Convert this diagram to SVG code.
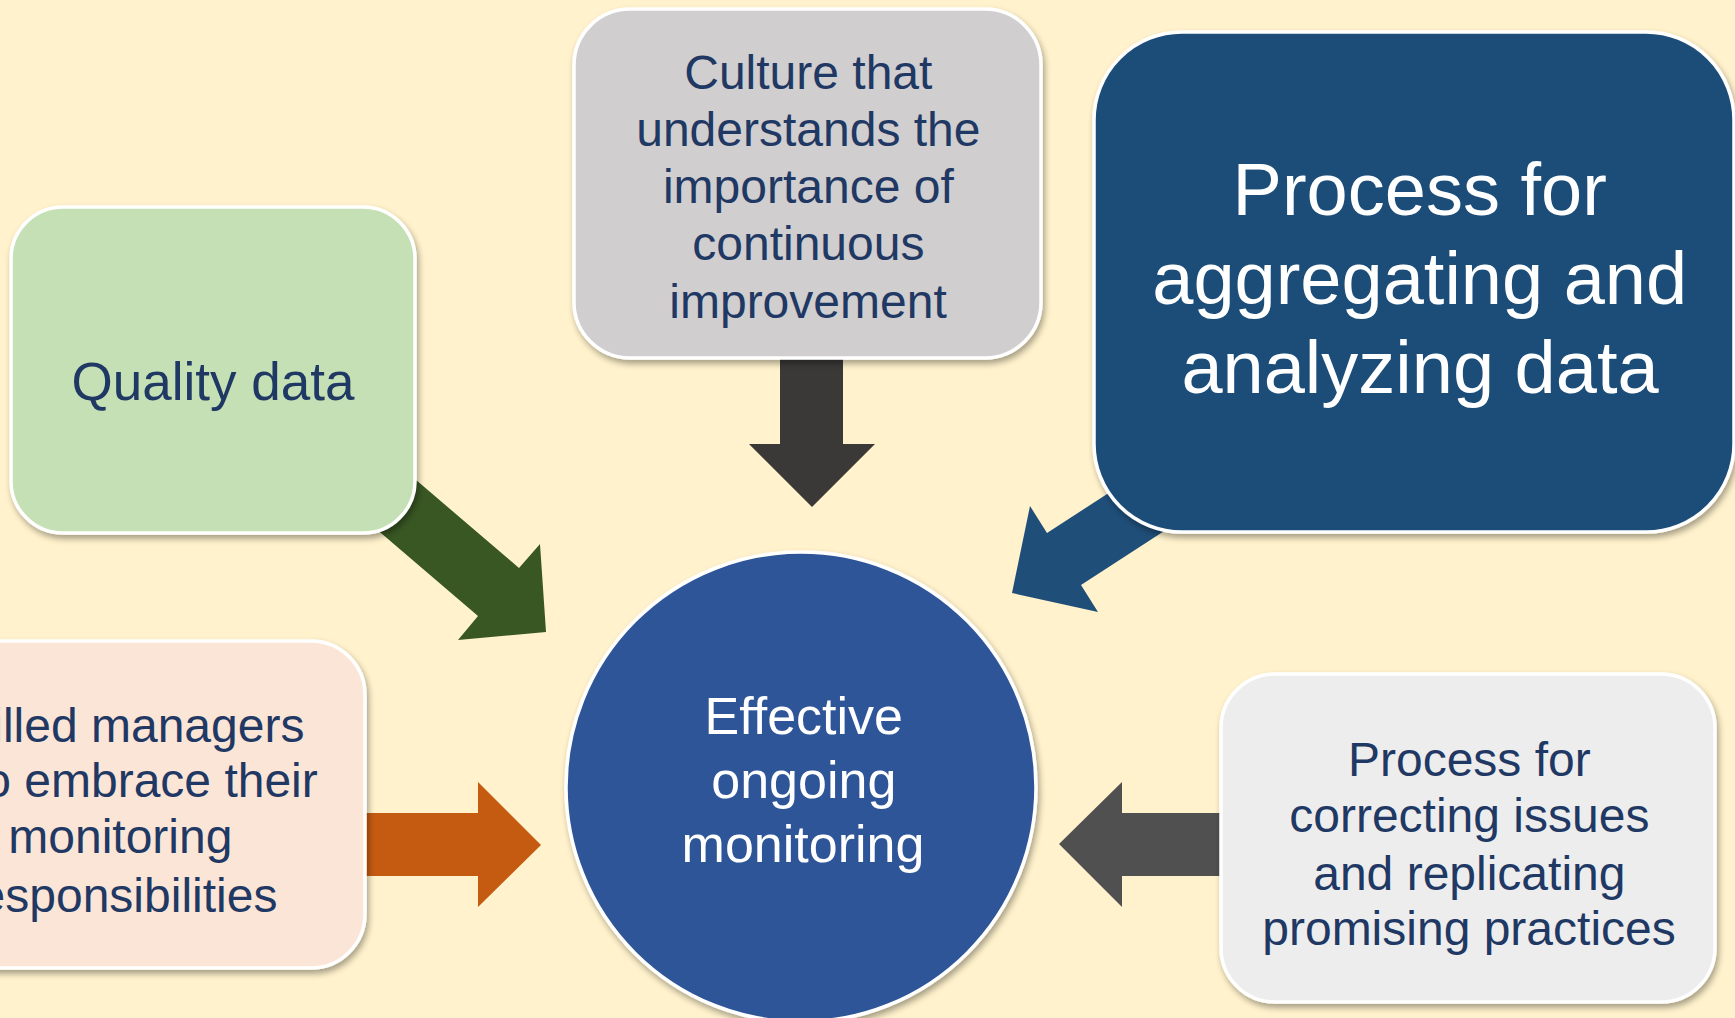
<svg xmlns="http://www.w3.org/2000/svg" width="1735" height="1018" viewBox="0 0 1735 1018">
<defs>
<filter id="sh" x="-10%" y="-10%" width="125%" height="125%">
<feDropShadow dx="2" dy="4" stdDeviation="3" flood-color="#000" flood-opacity="0.35"/>
</filter>
</defs>
<style>
.box{stroke:#fff;stroke-width:3.5;filter:url(#sh)}
.t{font-family:"Liberation Sans",Arial,sans-serif;text-anchor:middle;fill:#1F3864}
.w{fill:#fff}
</style>
<rect x="0" y="0" width="1735" height="1018" fill="#FFF2CC"/>
<g id="connectors">
<polygon id="arrow-quality" fill="#385723" points="326,486 478,616 458,640 546,632 540,544 519,568 367,438"/>
<polygon id="arrow-culture" fill="#3B3838" points="780,340 780,444 749,444 812,507 875,444 843,444 843,340"/>
<polygon id="arrow-aggregating" fill="#1F4E79" points="1249,476 1081,585 1098,612 1012,593 1030,506 1047,533 1215,424"/>
<polygon id="arrow-managers" fill="#C55A11" points="340,813 478,813 478,782 541,845 478,907 478,876 340,876"/>
<polygon id="arrow-correcting" fill="#505050" points="1240,813 1122,813 1122,782 1059,844 1122,907 1122,876 1240,876"/>
</g>
<g id="node-quality">
<rect class="box" x="11" y="207" width="404" height="326" rx="52" fill="#C5E0B4"/>
<text class="t" x="213" y="400" font-size="53">Quality data</text>
</g>
<g id="node-culture">
<rect class="box" x="574" y="9" width="467" height="349" rx="56" fill="#D0CECE"/>
<text class="t" font-size="48">
<tspan x="815" y="89">Culture that</tspan>
<tspan x="815" y="146">understands the</tspan>
<tspan x="815" y="203">importance of</tspan>
<tspan x="815" y="260">continuous</tspan>
<tspan x="808" y="318">improvement</tspan>
</text>
</g>
<g id="node-aggregating">
<rect class="box" x="1094" y="32" width="640" height="500" rx="88" fill="#1F4E79"/>
<text class="t w" font-size="74">
<tspan x="1430" y="215">Process for</tspan>
<tspan x="1430" y="304">aggregating and</tspan>
<tspan x="1420" y="393">analyzing data</tspan>
</text>
</g>
<g id="node-managers">
<rect class="box" x="-125" y="641" width="490" height="327" rx="54" fill="#FBE5D6"/>
<text class="t" font-size="48">
<tspan x="127" y="742">Skilled managers</tspan>
<tspan x="127" y="797">who embrace their</tspan>
<tspan x="127" y="853">monitoring</tspan>
<tspan x="120" y="912">responsibilities</tspan>
</text>
</g>
<g id="node-correcting">
<rect class="box" x="1221" y="674" width="494" height="328" rx="54" fill="#EDEDED"/>
<text class="t" font-size="48">
<tspan x="1476" y="776">Process for</tspan>
<tspan x="1476" y="832">correcting issues</tspan>
<tspan x="1476" y="890">and replicating</tspan>
<tspan x="1469" y="945">promising practices</tspan>
</text>
</g>
<g id="node-center">
<circle class="box" cx="801" cy="787" r="235" fill="#2F5597"/>
<text class="t w" font-size="52">
<tspan x="811" y="734">Effective</tspan>
<tspan x="811" y="798">ongoing</tspan>
<tspan x="803" y="862">monitoring</tspan>
</text>
</g>
</svg>
